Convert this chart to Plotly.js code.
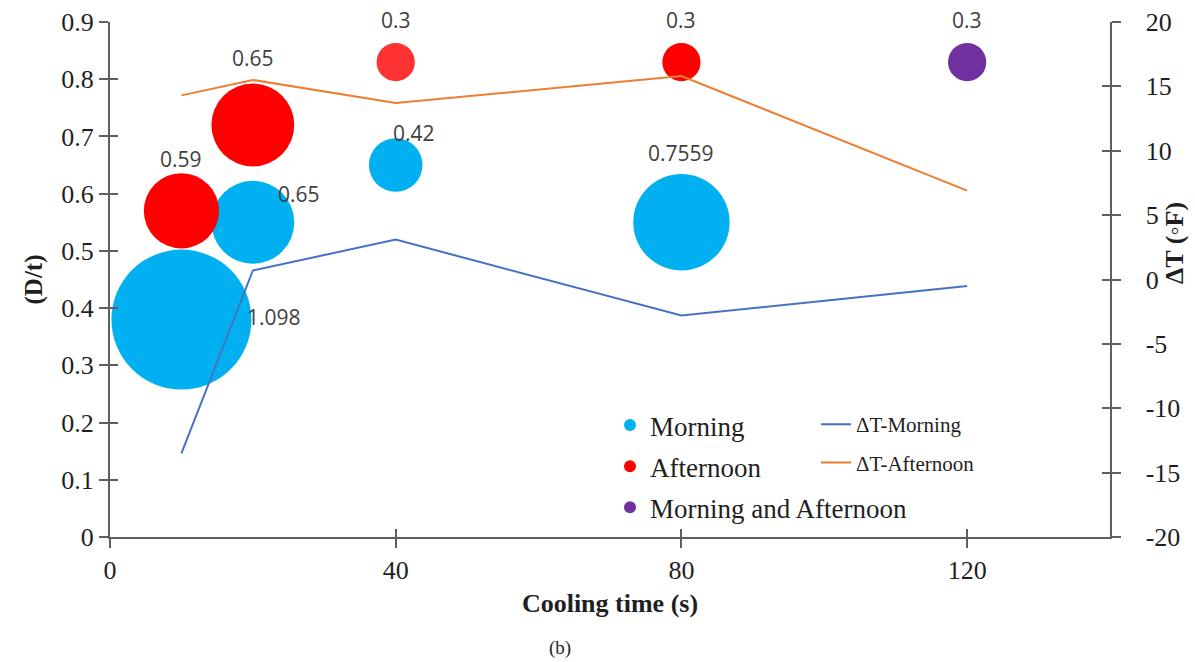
<!DOCTYPE html>
<html>
<head>
<meta charset="utf-8">
<script src="https://cdn.plot.ly/plotly-3.0.1.min.js"></script>
<style>html,body{margin:0;padding:0;background:#fff;}#chart{width:1195px;height:662px;}</style>
</head>
<body>
<div id="chart"></div>
<script>
// Bubble series: cooling time (s), D/t, bubble size (label)
const morningX = [10, 20, 40, 80];
const morningY = [0.38, 0.55, 0.65, 0.55];
const morningSize = [1.098, 0.65, 0.42, 0.7559];
const morningLabels = ["1.098", "0.65", "0.42", "0.7559"];

const afternoonX = [10, 20, 40, 80];
const afternoonY = [0.57, 0.72, 0.83, 0.83];
const afternoonSize = [0.59, 0.65, 0.3, 0.3];
const afternoonLabels = ["0.59", "0.65", "0.3", "0.3"];

const bothX = [120];
const bothY = [0.83];
const bothSize = [0.3];
const bothLabels = ["0.3"];

// Delta T lines (°F)
const dtX = [10, 20, 40, 80, 120];
const dtMorning = [-13.5, 0.7, 3.1, -2.8, -0.5];
const dtAfternoon = [14.3, 15.5, 13.7, 15.8, 6.9];

const xTicks = [0, 40, 80, 120];
const y2Ticks = [-20, -15, -10, -5, 0, 5, 10, 15, 20];

const xTitle = "Cooling time (s)";
const yTitle = "(D/t)";
const y2Title = "ΔT (◦F)";
const panelLabel = "(b)";

// ---- styling (label placement: kind + pixel gap/offsets) ----
const morningLabelStyle = [
  {kind: "right", dx: -5, dy: 3},
  {kind: "free", dx: 24, dy: 28},
  {kind: "free", dx: -4, dy: 32},
  {kind: "top", gap: 12}
];
const afternoonLabelStyle = [
  {kind: "top", gap: 5}, {kind: "top", gap: 17}, {kind: "top", gap: 14}, {kind: "top", gap: 14}
];
const bothLabelStyle = [{kind: "top", gap: 14}];

const maxDiameterPx = 140;
const sizeref = Math.max(...morningSize) / maxDiameterPx;
const labelFont = {family: "Open Sans, sans-serif", size: 21, color: "#404040"};
const serif = "Liberation Serif, Times New Roman, serif";
const axisColor = "#5f5f5f";
const textColor = "#1f1f1f";
const pad = "\u00a0\u00a0\u00a0";

function labelAnnotations(xs, ys, sizes, labels, styles) {
  return xs.map((x, i) => {
    const r = sizes[i] / sizeref / 2;
    const s = styles[i];
    const a = {x: x, y: ys[i], xref: "x", yref: "y", text: labels[i], showarrow: false,
               font: labelFont, borderpad: 0};
    if (s.kind === "top") {
      a.xanchor = "center"; a.yanchor = "bottom"; a.xshift = 0; a.yshift = r + s.gap - 6;
    } else if (s.kind === "right") {
      a.xanchor = "left"; a.yanchor = "middle"; a.xshift = r + s.dx; a.yshift = s.dy;
    } else {
      a.xanchor = "left"; a.yanchor = "middle"; a.xshift = s.dx; a.yshift = s.dy;
    }
    return a;
  });
}

const traces = [
  {
    x: morningX, y: morningY, mode: "markers", name: "Morning",
    marker: {size: morningSize, sizemode: "diameter", sizeref: sizeref, color: "#00B0F0", line: {width: 0}, opacity: 1},
    legend: "legend", legendgroup: "a", xaxis: "x", yaxis: "y"
  },
  {
    x: afternoonX, y: afternoonY, mode: "markers", name: "Afternoon",
    marker: {size: afternoonSize, sizemode: "diameter", sizeref: sizeref,
             color: ["#FF0000", "#FF0000", "#FF3333", "#FF0000"], line: {width: 0}, opacity: 1},
    legend: "legend", legendgroup: "b", xaxis: "x", yaxis: "y"
  },
  {
    x: bothX, y: bothY, mode: "markers", name: "Morning and Afternoon",
    marker: {size: bothSize, sizemode: "diameter", sizeref: sizeref, color: "#7030A0", line: {width: 0}, opacity: 1},
    legend: "legend", legendgroup: "c", xaxis: "x", yaxis: "y"
  },
  {
    x: dtX, y: dtMorning, mode: "lines", name: "ΔT-Morning",
    line: {color: "#4472C4", width: 2},
    legend: "legend2", legendgroup: "d", xaxis: "x", yaxis: "y2"
  },
  {
    x: dtX, y: dtAfternoon, mode: "lines", name: "ΔT-Afternoon",
    line: {color: "#ED7D31", width: 2},
    legend: "legend2", legendgroup: "e", xaxis: "x", yaxis: "y2"
  },
  // empty helper traces so the inward half of the cross tick marks is drawn
  {x: [], y: [], type: "scatter", mode: "markers", xaxis: "x2", yaxis: "y3", showlegend: false, hoverinfo: "skip"},
  {x: [], y: [], type: "scatter", mode: "markers", xaxis: "x2", yaxis: "y4", showlegend: false, hoverinfo: "skip"}
];

const axisCommon = {
  showgrid: false, zeroline: false, showline: true, linecolor: axisColor, linewidth: 2,
  ticks: "outside", ticklen: 9, tickwidth: 2, tickcolor: axisColor,
  tickfont: {family: serif, size: 26, color: textColor}
};
const innerTicks = {
  showgrid: false, zeroline: false, showline: false, showticklabels: false,
  ticks: "inside", ticklen: 8, tickwidth: 2, tickcolor: axisColor, fixedrange: true
};

const layout = {
  width: 1195, height: 662,
  margin: {l: 110, r: 85, t: 22, b: 125},
  paper_bgcolor: "#ffffff", plot_bgcolor: "rgba(0,0,0,0)",
  showlegend: true,
  xaxis: Object.assign({}, axisCommon, {
    range: [0, 140], tickvals: xTicks, ticktext: xTicks.map(String),
    title: {text: "<b>" + xTitle + "</b>", font: {family: serif, size: 26, color: textColor}, standoff: 10}
  }),
  xaxis2: Object.assign({}, innerTicks, {
    range: [0, 140], tickvals: xTicks, overlaying: "x", anchor: "y3", side: "bottom"
  }),
  yaxis: Object.assign({}, axisCommon, {
    range: [0, 0.9], dtick: 0.1, tick0: 0,
    title: {text: "<b>" + yTitle + "</b>", font: {family: serif, size: 25, color: textColor}, standoff: 12}
  }),
  yaxis2: Object.assign({}, axisCommon, {
    range: [-20, 20], tickvals: y2Ticks, ticktext: y2Ticks.map(v => pad + String(v)),
    overlaying: "y", side: "right", anchor: "x"
  }),
  yaxis3: Object.assign({}, innerTicks, {
    range: [0, 0.9], dtick: 0.1, tick0: 0, overlaying: "y", side: "left", anchor: "x2"
  }),
  yaxis4: Object.assign({}, innerTicks, {
    range: [-20, 20], tickvals: y2Ticks, overlaying: "y", side: "right", anchor: "x2"
  }),
  legend: {
    x: 0.500, y: 0.264, xanchor: "left", yanchor: "top",
    bgcolor: "rgba(0,0,0,0)", itemsizing: "constant", tracegroupgap: 3,
    font: {family: serif, size: 27, color: textColor}
  },
  legend2: {
    x: 0.706, y: 0.258, xanchor: "left", yanchor: "top",
    bgcolor: "rgba(0,0,0,0)", tracegroupgap: 8,
    font: {family: serif, size: 21, color: textColor}
  },
  annotations: [].concat(
    labelAnnotations(morningX, morningY, morningSize, morningLabels, morningLabelStyle),
    labelAnnotations(afternoonX, afternoonY, afternoonSize, afternoonLabels, afternoonLabelStyle),
    labelAnnotations(bothX, bothY, bothSize, bothLabels, bothLabelStyle),
    [
      {text: "<b>" + y2Title + "</b>", xref: "paper", yref: "paper", x: 1.065, y: 0.571, textangle: -90,
       showarrow: false, font: {family: serif, size: 26, color: textColor}, xanchor: "center", yanchor: "middle"},
      {text: panelLabel, xref: "paper", yref: "paper", x: 0.45, y: -0.215, showarrow: false,
       font: {family: serif, size: 19, color: textColor}, xanchor: "center", yanchor: "middle"}
    ]
  )
};

Plotly.newPlot("chart", traces, layout, {displayModeBar: false, staticPlot: true});
</script>
</body>
</html>
